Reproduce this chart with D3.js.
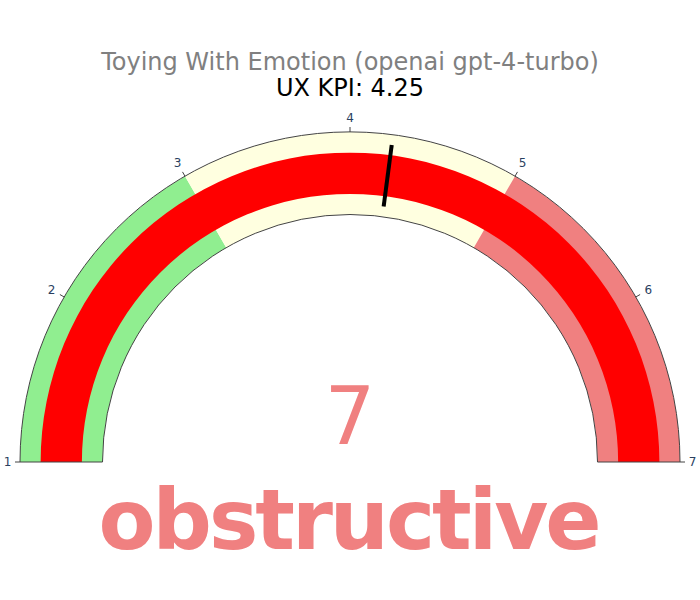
<!DOCTYPE html>
<html><head><meta charset="utf-8">
<script src="https://cdn.jsdelivr.net/npm/d3@7"></script>
<style>body{margin:0;background:#fff}</style>
</head><body>
<svg id="chart" width="700" height="600"></svg>
<script>
const titleLines = ["Toying With Emotion (openai gpt-4-turbo)", "UX KPI: 4.25"];
const gaugeRange = [1, 7];
const tickValues = [1, 2, 3, 4, 5, 6, 7];
const stepStarts = [1, 3, 5];
const stepEnds = [3, 5, 7];
const stepColors = ["#90ee90", "#ffffe0", "#f08080"];
const barValue = 7;
const thresholdValue = 4.25;
const numberValue = 7;
const moodLabel = "obstructive";

const FONT = "'DejaVu Sans', Verdana, sans-serif";
const svg = d3.select("#chart");
const cx = 350, cy = 462, R = 330, r0 = R * 0.75;
const band = R - r0;
const ang = d3.scaleLinear().domain(gaugeRange).range([-Math.PI / 2, Math.PI / 2]);
const g = svg.append("g").attr("transform", `translate(${cx},${cy})`);

const arc = d3.arc();
g.selectAll("path.step").data(stepStarts).enter().append("path")
  .attr("class", "step")
  .attr("d", (d, i) => arc({innerRadius: r0, outerRadius: R, startAngle: ang(d), endAngle: ang(stepEnds[i])}))
  .attr("fill", (d, i) => stepColors[i]);

const barIn = r0 + band * 0.25, barOut = R - band * 0.25;
g.append("path")
  .attr("d", arc({innerRadius: barIn, outerRadius: barOut, startAngle: ang(gaugeRange[0]), endAngle: ang(barValue)}))
  .attr("fill", "#ff0000");

g.append("path")
  .attr("d", arc({innerRadius: r0, outerRadius: R, startAngle: ang(gaugeRange[0]), endAngle: ang(gaugeRange[1])}))
  .attr("fill", "none").attr("stroke", "#444").attr("stroke-width", 1);

const tIn = r0 + band * 0.125, tOut = R - band * 0.125;
const ta = ang(thresholdValue);
g.append("line")
  .attr("x1", tIn * Math.sin(ta)).attr("y1", -tIn * Math.cos(ta))
  .attr("x2", tOut * Math.sin(ta)).attr("y2", -tOut * Math.cos(ta))
  .attr("stroke", "#000").attr("stroke-width", 4);

tickValues.forEach(v => {
  const a = ang(v), s = Math.sin(a), c = Math.cos(a);
  g.append("line")
    .attr("x1", R * s).attr("y1", -R * c)
    .attr("x2", (R + 5) * s).attr("y2", -(R + 5) * c)
    .attr("stroke", "#444").attr("stroke-width", 1);
  const off = 339 + Math.abs(s) * 3.5 + Math.abs(c) * 5;
  g.append("text")
    .attr("x", off * s).attr("y", -off * c)
    .attr("dy", "0.36em")
    .attr("text-anchor", "middle")
    .attr("font-family", FONT)
    .attr("font-size", 12).attr("fill", "#2a3f5f")
    .text(d3.format("d")(v));
});

svg.append("text").attr("x", 350).attr("y", 69.5).attr("text-anchor", "middle")
  .attr("font-family", FONT).attr("font-size", 24)
  .attr("fill", "#808080").text(titleLines[0]);
svg.append("text").attr("x", 350).attr("y", 96).attr("text-anchor", "middle")
  .attr("font-family", FONT).attr("font-size", 24)
  .attr("fill", "#000").text(titleLines[1]);

svg.append("text").attr("x", 350).attr("y", 443.5).attr("text-anchor", "middle")
  .attr("font-family", FONT).attr("font-size", 80)
  .attr("fill", "#f08080").text(d3.format("d")(numberValue));

svg.append("text").attr("x", 350).attr("y", 549).attr("text-anchor", "middle")
  .attr("font-family", FONT).attr("font-weight", "bold").attr("font-size", 83)
  .attr("textLength", 503).attr("lengthAdjust", "spacing")
  .attr("fill", "#f08080").text(moodLabel);
</script>
</body></html>
